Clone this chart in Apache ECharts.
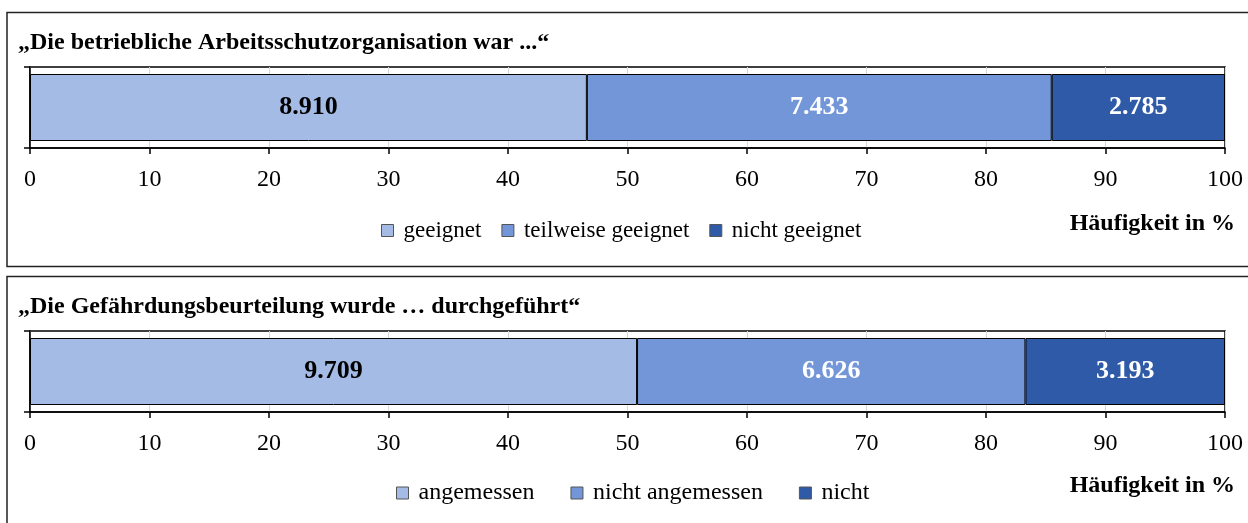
<!DOCTYPE html>
<html>
<head>
<meta charset="utf-8">
<title>Arbeitsschutzorganisation</title>
<script src="https://cdn.jsdelivr.net/npm/echarts@6/dist/echarts.min.js"></script>
<style>
    html, body { margin: 0; padding: 0; background: #fff; }
    #chart { width: 1248px; height: 523px; }
</style>
</head>
<body>
<div id="chart"></div>
<script>
// Panel 1
const title1 = '„Die betriebliche Arbeitsschutzorganisation war ...“'
const names1 = ['geeignet', 'teilweise geeignet', 'nicht geeignet']
const percent1 = [46.6, 38.9, 14.5]
const counts1 = [8910, 7433, 2785]

// Panel 2
const title2 = '„Die Gefährdungsbeurteilung wurde … durchgeführt“'
const names2 = ['angemessen', 'nicht angemessen', 'nicht']
const percent2 = [50.8, 32.5, 16.7]
const counts2 = [9709, 6626, 3193]

const colors = ['#A4BBE6', '#7396D8', '#2E5AA8']
const labelColors = ['#000', '#fff', '#fff']
const axisTitle = 'Häufigkeit in %'

const font = '"Liberation Serif", "Times New Roman", serif'

function fmt(n) {
    // deutsche Tausendertrennung
    return String(n).replace(/\B(?=(\d{3})+(?!\d))/g, '.')
}

function makeSeries(names, percent, counts, idx) {
    return names.map((name, i) => ({
        name: name,
        type: 'bar',
        stack: 'p' + idx,
        xAxisIndex: idx,
        yAxisIndex: idx,
        barWidth: 67,
        data: [percent[i]],
        itemStyle: {
            color: colors[i],
            borderColor: '#000',
            borderWidth: 1
        },
        label: {
            show: true,
            position: 'inside',
            formatter: () => fmt(counts[i]),
            color: labelColors[i],
            fontFamily: font,
            fontWeight: 'bold',
            fontSize: 26
        },
        emphasis: { disabled: true }
    }))
}

function makeXAxis(idx) {
    return {
        gridIndex: idx,
        type: 'value',
        min: 0,
        max: 100,
        interval: 10,
        axisLine: { show: true, lineStyle: { color: '#000', width: 1.5 } },
        axisTick: { show: true, length: 6, lineStyle: { color: '#000', width: 1.5 } },
        axisLabel: {
            color: '#000',
            fontFamily: font,
            fontSize: 24,
            margin: 20
        },
        splitLine: { show: true, lineStyle: { color: '#d9d9d9', width: 1 } }
    }
}

function makeYAxis(idx) {
    return {
        gridIndex: idx,
        type: 'category',
        data: [''],
        axisLine: { show: true, lineStyle: { color: '#000', width: 1.5 } },
        axisTick: { show: true, length: 6, lineStyle: { color: '#000', width: 1.5 } },
        axisLabel: { show: false }
    }
}

function makeLegend(names, left, top, gap, size) {
    return {
        data: names,
        left: left,
        top: top,
        icon: 'rect',
        itemWidth: 12,
        itemHeight: 12,
        itemGap: gap,
        selectedMode: false,
        itemStyle: { borderColor: '#555', borderWidth: 1 },
        textStyle: { color: '#000', fontFamily: font, fontSize: size, padding: [0, 0, 0, 5] }
    }
}

let chart = echarts.init(document.getElementById('chart'), null, { renderer: 'canvas' })
let option = {
    animation: false,
    backgroundColor: '#fff',
    title: [
        {
            text: title1, left: 13, top: 26,
            textStyle: { fontFamily: font, fontWeight: 'bold', fontSize: 24, color: '#000' }
        },
        {
            text: title2, left: 13, top: 290,
            textStyle: { fontFamily: font, fontWeight: 'bold', fontSize: 24, color: '#000' }
        }
    ],
    grid: [
        { left: 30, right: 23, top: 67, height: 81, show: true, borderColor: '#000', borderWidth: 1.5 },
        { left: 30, right: 23, top: 331, height: 81, show: true, borderColor: '#000', borderWidth: 1.5 }
    ],
    xAxis: [makeXAxis(0), makeXAxis(1)],
    yAxis: [makeYAxis(0), makeYAxis(1)],
    legend: [
        makeLegend(names1, 376, 214, 20, 23),
        makeLegend(names2, 391, 476, 36, 24)
    ],
    graphic: [
        // Rahmen der beiden Teilgrafiken
        {
            type: 'rect', silent: true, z: -1,
            shape: { x: 7, y: 12.5, width: 1260, height: 254 },
            style: { fill: 'none', stroke: '#222', lineWidth: 1.5 }
        },
        {
            type: 'rect', silent: true, z: -1,
            shape: { x: 7, y: 276.5, width: 1260, height: 260 },
            style: { fill: 'none', stroke: '#222', lineWidth: 1.5 }
        },
        {
            type: 'text', right: 13, top: 212,
            style: { text: axisTitle, fontFamily: font, fontWeight: 'bold', fontSize: 24, fill: '#000' }
        },
        {
            type: 'text', right: 13, top: 474,
            style: { text: axisTitle, fontFamily: font, fontWeight: 'bold', fontSize: 24, fill: '#000' }
        }
    ],
    series: makeSeries(names1, percent1, counts1, 0).concat(makeSeries(names2, percent2, counts2, 1))
}
chart.setOption(option)
window.addEventListener('resize', function () {
    chart.resize()
})
</script>
</body>
</html>
